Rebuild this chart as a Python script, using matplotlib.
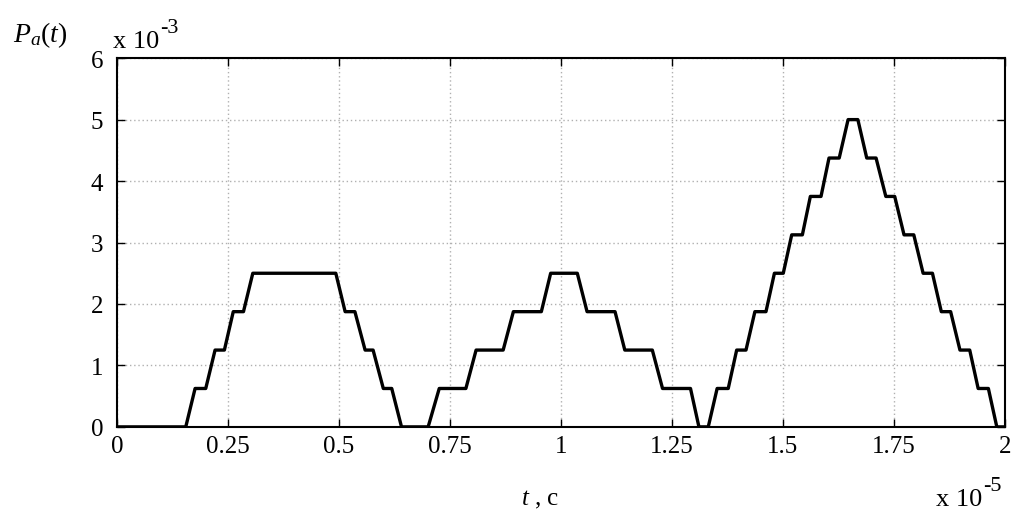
import numpy as np
import matplotlib
matplotlib.use("Agg")
import matplotlib.pyplot as plt

plt.rcParams['font.family'] = ['Liberation Serif', 'DejaVu Serif']
plt.rcParams['mathtext.fontset'] = 'custom'
plt.rcParams['mathtext.it'] = 'Liberation Serif:italic'
plt.rcParams['mathtext.rm'] = 'Liberation Serif'

# time in units of 1e-5 s, P_a in units of 1e-3
t = [0.0, 0.155, 0.176, 0.200, 0.221, 0.242, 0.262, 0.285, 0.306,
     0.493, 0.514, 0.536, 0.559, 0.577, 0.600, 0.619, 0.641,
     0.701, 0.726, 0.786, 0.809, 0.870, 0.893, 0.956, 0.977,
     1.037, 1.059, 1.122, 1.144, 1.206, 1.229, 1.292, 1.311,
     1.332, 1.352, 1.377, 1.396, 1.417, 1.437, 1.462, 1.481,
     1.501, 1.520, 1.544, 1.562, 1.586, 1.604, 1.627, 1.647,
     1.669, 1.689, 1.710, 1.732, 1.752, 1.773, 1.795, 1.816,
     1.837, 1.857, 1.878, 1.899, 1.921, 1.940, 1.963, 1.982, 2.0]
P = [0.0, 0.0, 0.625, 0.625, 1.25, 1.25, 1.875, 1.875, 2.5,
     2.5, 1.875, 1.875, 1.25, 1.25, 0.625, 0.625, 0.0,
     0.0, 0.625, 0.625, 1.25, 1.25, 1.875, 1.875, 2.5,
     2.5, 1.875, 1.875, 1.25, 1.25, 0.625, 0.625, 0.0,
     0.0, 0.625, 0.625, 1.25, 1.25, 1.875, 1.875, 2.5,
     2.5, 3.125, 3.125, 3.75, 3.75, 4.375, 4.375, 5.0,
     5.0, 4.375, 4.375, 3.75, 3.75, 3.125, 3.125, 2.5,
     2.5, 1.875, 1.875, 1.25, 1.25, 0.625, 0.625, 0.0, 0.0]

xticks = [0, 0.25, 0.5, 0.75, 1, 1.25, 1.5, 1.75, 2]
xticklabels = ['0', '0.25', '0.5', '0.75', '1', '1.25', '1.5', '1.75', '2']
yticks = [0, 1, 2, 3, 4, 5, 6]

fig = plt.figure(figsize=(10.17, 5.10), dpi=100)
ax = fig.add_axes([0.115, 0.161, 0.873, 0.723])
ax.plot(t, P, color='black', lw=2.4, solid_joinstyle='round')
ax.set_xlim(0, 2)
ax.set_ylim(0, 6)
ax.set_xticks(xticks)
ax.set_xticklabels(xticklabels)
ax.set_yticks(yticks)
ax.grid(True, color='#b0b0b0', linestyle=(0, (1, 2)), linewidth=1.0)
ax.tick_params(direction='in', top=True, right=True, length=6, width=1,
               labelsize=18)
ax.tick_params(axis='x', pad=6)
ax.tick_params(axis='y', pad=10)
for s in ax.spines.values():
    s.set_linewidth(1.5)

fig.text(0.040, 0.931, r'$P_a(t)$', fontsize=20, ha='center', va='center')
fig.text(0.531, 0.008, r'$t$ , c', fontsize=18, ha='center', va='baseline')

# MATLAB style exponent labels: "x 10" with a raised exponent after it
e_y = fig.text(0.111, 0.906, 'x 10', fontsize=19, ha='left', va='baseline')
e_x = fig.text(0.920, 0.008, 'x 10', fontsize=19, ha='left', va='baseline')
fig.canvas.draw()
for txt, lab in [(e_y, '-3'), (e_x, '-5')]:
    bb = txt.get_window_extent().transformed(fig.transFigure.inverted())
    fig.text(bb.x1 + 0.001, bb.y1 - 0.004, lab, fontsize=16,
             ha='left', va='baseline')

fig.savefig('out.png', dpi=100)
